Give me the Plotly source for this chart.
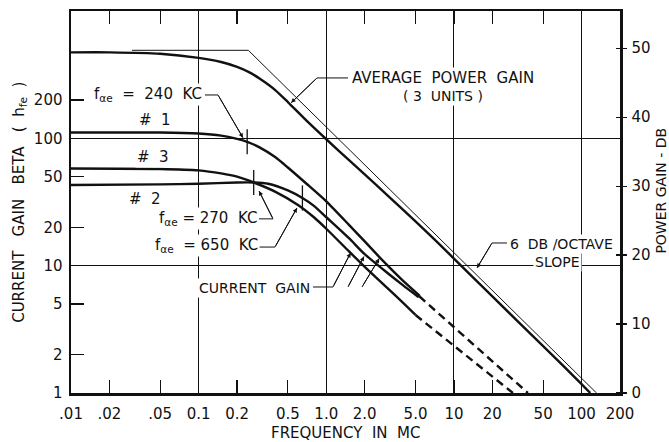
import numpy as np
import plotly.graph_objects as go

# ---------------- data ----------------
# Average power gain (dB, right axis)
pg_freq = [0.01, 0.02, 0.05, 0.1, 0.15, 0.2, 0.25, 0.3, 0.4, 0.5, 0.7, 1.0, 1.5, 2.0, 3.0, 5.0, 7.0, 10, 20, 50, 100, 117]
pg_db   = [49.4, 49.4, 49.2, 48.6, 48.0, 47.3, 46.5, 45.6, 43.9, 42.2, 39.5, 36.8, 33.8, 31.7, 28.7, 24.9, 22.3, 19.5, 14.0, 6.8, 1.3, 0.0]

# 6 dB/octave asymptote (dB, right axis)
asym_freq = [0.03, 0.245, 131]
asym_db   = [49.7, 49.7, 0.0]

# Current gain curves (left axis)
c1_freq = [0.01, 0.05, 0.1, 0.15, 0.2, 0.24, 0.3, 0.4, 0.5, 0.7, 1.0, 1.5, 2.0, 2.5, 3.0, 4.0, 5.4]
c1_gain = [111, 111, 109, 105, 99, 94, 85, 71, 59, 44, 32, 21, 15.5, 12.2, 10.1, 7.6, 5.8]

c2_freq = [0.01, 0.05, 0.1, 0.2, 0.27, 0.35, 0.5, 0.65, 0.8, 1.0, 1.5, 2.0, 3.0, 4.0, 5.3]
c2_gain = [43, 43.5, 44, 45, 45, 44, 39, 34, 29.5, 24, 16.5, 12.3, 8.8, 7.0, 5.65]

c3_freq = [0.01, 0.05, 0.1, 0.15, 0.2, 0.27, 0.4, 0.6, 0.8, 1.0, 1.5, 2.0, 3.0, 4.0, 5.0]
c3_gain = [58, 57.5, 56, 53, 50, 45, 38, 30, 24, 19.5, 13, 9.8, 6.7, 5.1, 4.1]

# Dashed extrapolations
ext_upper_freq = [5.35, 38]
ext_upper_gain = [5.75, 1.0]
ext_lower_freq = [5.0, 29]
ext_lower_gain = [4.1, 1.0]

# f_alpha_e marks on curves
fae_freq = [0.24, 0.27, 0.65]
fae_gain = [94, 45, 34]

# ticks
x_tickvals = [0.01, 0.02, 0.05, 0.1, 0.2, 0.5, 1.0, 2.0, 5.0, 10, 20, 50, 100, 200]
x_ticktext = [".01", ".02", ".05", "0.1", "0.2", "0.5", "1.0", "2.0", "5.0", "10", "20", "50", "100", "200"]
y_tickvals = [1, 2, 5, 10, 20, 50, 100, 200]
y_ticktext = ["1", "2", "5", "10", "20", "50", "100", "200"]
db_tickvals = [0, 10, 20, 30, 40, 50]
x_grid = [0.1, 1, 10, 100]
y_grid = [10, 100]

# leader lines (text end -> bend -> tip), in data units of the left axis
leaders = [
    ([1.479, 0.846, 0.53], [298, 298, 190]),          # average power gain
    ([0.1121, 0.1418, 0.2225], [219, 219, 101]),      # 240 KC
    ([0.2971, 0.3824, 0.2971], [23.3, 23.3, 38.6]),   # 270 KC
    ([0.2917, 0.3964, 0.5895], [14.0, 14.0, 28.4]),   # 650 KC
    ([0.7866, 1.128, 1.55], [6.8, 6.8, 12.6]),        # current gain a
    ([1.479, 1.974], [6.8, 11.8]),                    # current gain b
    ([1.905, 1.905, 2.6], [6.8, 6.8, 11.4]),          # current gain c
    ([26.04, 19.86, 15.16], [15.07, 15.07, 9.6]),     # 6 db/octave
]

FONT = "DejaVu Sans"
INK = "#111111"

fig = go.Figure()

fig.add_trace(go.Scatter(x=asym_freq, y=asym_db, yaxis="y2", mode="lines",
                         line=dict(color=INK, width=1), hoverinfo="skip"))
fig.add_trace(go.Scatter(x=pg_freq, y=pg_db, yaxis="y2", mode="lines",
                         line=dict(color=INK, width=2.4, shape="spline", smoothing=0.6), hoverinfo="skip"))
for fx, gy in [(c1_freq, c1_gain), (c2_freq, c2_gain), (c3_freq, c3_gain)]:
    fig.add_trace(go.Scatter(x=fx, y=gy, mode="lines",
                             line=dict(color=INK, width=2.4, shape="spline", smoothing=0.6), hoverinfo="skip"))
for fx, gy in [(ext_upper_freq, ext_upper_gain), (ext_lower_freq, ext_lower_gain)]:
    fig.add_trace(go.Scatter(x=fx, y=gy, mode="lines",
                             line=dict(color=INK, width=2.4, dash="8px,5px"), hoverinfo="skip"))
fig.add_trace(go.Scatter(x=fae_freq, y=fae_gain, mode="markers",
                         marker=dict(symbol="line-ns", size=18, line=dict(color=INK, width=1.3)),
                         hoverinfo="skip"))

lx = np.log10

# leader polylines + arrow heads
for fx, gy in leaders:
    fig.add_trace(go.Scatter(x=fx, y=gy, mode="lines", line=dict(color=INK, width=1),
                             hoverinfo="skip"))
    fig.add_annotation(x=lx(fx[-1]), y=lx(gy[-1]), ax=lx(fx[-2]), ay=lx(gy[-2]),
                       xref="x", yref="y", axref="x", ayref="y", text="", showarrow=True,
                       arrowhead=2, arrowsize=0.9, arrowwidth=1, arrowcolor=INK, standoff=0)


def txt(x, y, s, size=14, **kw):
    d = dict(x=lx(x), y=lx(y), xref="x", yref="y", text=s, showarrow=False,
             font=dict(family=FONT, size=size, color=INK), bgcolor="white", borderpad=1)
    d.update(kw)
    fig.add_annotation(**d)

FAE = "f<sub>αe</sub>"
txt(8.2, 298, "AVERAGE  POWER  GAIN", size=15)
txt(8.2, 215, "( 3  UNITS )")
txt(0.0401, 219, FAE + "  =  240  KC", size=15)
txt(0.0455, 139, "#  1", size=15)
txt(0.0439, 71, "#  3", size=15)
txt(0.038, 33.4, "#  2", size=15)
txt(0.118, 23.3, FAE + " = 270  KC", size=15)
txt(0.116, 14.3, FAE + "  = 650  KC", size=15)
txt(0.272, 6.7, "CURRENT  GAIN")
txt(69, 14.8, "6  DB /OCTAVE")
txt(65, 10.7, "SLOPE")

# axis titles
fig.add_annotation(x=-0.095, y=0.5, xref="paper", yref="paper", xanchor="center", yanchor="middle",
                   text="CURRENT   GAIN   BETA   (  h<sub>fe</sub>  )", textangle=-90, showarrow=False,
                   font=dict(family=FONT, size=15, color=INK))
fig.add_annotation(x=1.073, y=0.53, xref="paper", yref="paper", xanchor="center", yanchor="middle",
                   text="POWER GAIN - DB", textangle=-90, showarrow=False,
                   font=dict(family=FONT, size=14, color=INK))
fig.add_annotation(x=0.5, y=-0.105, xref="paper", yref="paper", xanchor="center", yanchor="middle",
                   text="FREQUENCY  IN  MC", showarrow=False,
                   font=dict(family=FONT, size=15, color=INK))

tickfont = dict(family=FONT, size=15, color=INK)
fig.update_layout(
    width=669, height=442,
    margin=dict(l=71, r=49, t=11, b=49, autoexpand=False),
    paper_bgcolor="white", plot_bgcolor="white",
    showlegend=False,
    xaxis=dict(type="log", range=[-2, np.log10(200)], tickvals=x_tickvals, ticktext=x_ticktext,
               ticks="inside", ticklen=13, tickwidth=1.2, tickcolor=INK, automargin=False,
               showline=True, linewidth=2.5, linecolor=INK, mirror="ticks",
               showgrid=False, zeroline=False, tickfont=tickfont, ticklabelstandoff=5,
               minor=dict(tickvals=x_grid, showgrid=True, gridcolor=INK, gridwidth=1, ticks="")),
    yaxis=dict(type="log", range=[0, 3], tickvals=y_tickvals, ticktext=y_ticktext,
               ticks="inside", ticklen=13, tickwidth=1.2, tickcolor=INK, automargin=False,
               showline=True, linewidth=2.5, linecolor=INK, mirror=False,
               showgrid=False, zeroline=False, tickfont=tickfont, ticklabelstandoff=3,
               minor=dict(tickvals=y_grid, showgrid=True, gridcolor=INK, gridwidth=1, ticks="")),
    yaxis2=dict(overlaying="y", side="right", range=[0, 55.4], tickvals=db_tickvals,
                ticks="outside", ticklen=4, tickwidth=1.2, tickcolor=INK, automargin=False,
                showline=True, linewidth=2.5, linecolor=INK, showgrid=False, zeroline=False,
                tickfont=tickfont, ticklabelstandoff=2,
                minor=dict(tickvals=db_tickvals, ticks="inside", ticklen=4, tickwidth=1.2, tickcolor=INK)),
)

fig.write_html("out.html", config={"displayModeBar": False, "staticPlot": True},
               post_script="document.body.style.margin='0';document.body.style.padding='0';document.body.style.overflow='hidden';")
